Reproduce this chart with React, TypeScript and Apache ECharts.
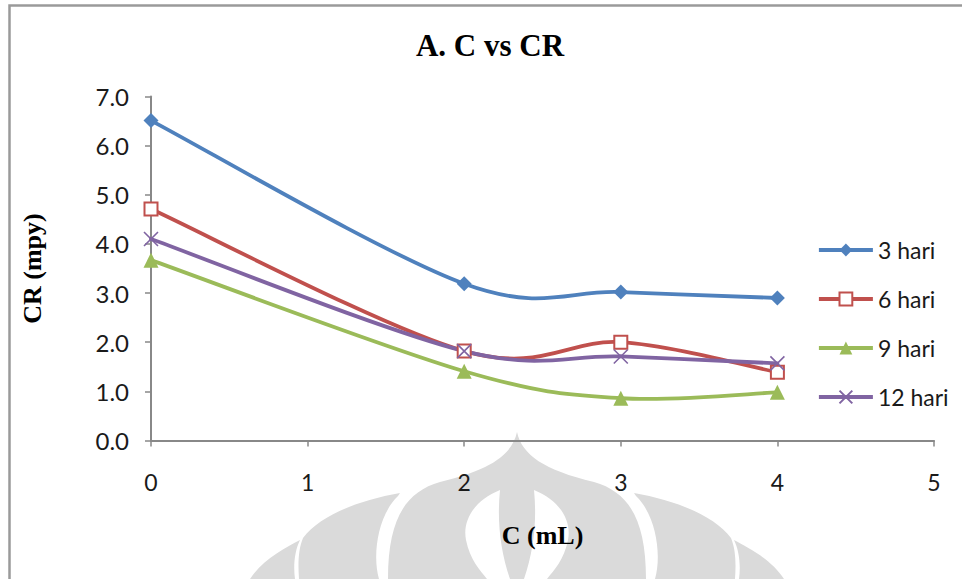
import React, { useEffect, useRef } from "react";
import * as echarts from "echarts";

const xValues = [0, 2, 3, 4];
const seriesNames = ["3 hari", "6 hari", "9 hari", "12 hari"];
const hari3 = [6.51, 3.19, 3.02, 2.9];
const hari6 = [4.71, 1.82, 2.0, 1.39];
const hari9 = [3.67, 1.41, 0.86, 0.98];
const hari12 = [4.1, 1.82, 1.71, 1.57];
const seriesValues = [hari3, hari6, hari9, hari12];
const seriesColors = ["#4f81bd", "#c0504d", "#9bbb59", "#8064a2"];
const yTicks = [0, 1, 2, 3, 4, 5, 6, 7];
const xTicks = [0, 1, 2, 3, 4, 5];

const WM_GREY =
  "M 300 540 C 285 548 262 560 250 579 L 295 579 C 293 565 295 550 300 540 Z " +
  "M 400 493 C 360 500 320 515 303 538 C 298 550 298 565 299 579 L 379 579 C 372 555 378 515 398 496 Z " +
  "M 517 432 C 512 455 490 470 440 482 C 405 492 388 520 388 579 L 646 579 C 646 520 629 492 594 482 C 544 470 522 455 517 432 Z " +
  "M 634 493 C 674 500 714 515 731 538 C 736 550 736 565 735 579 L 655 579 C 662 555 656 515 636 496 Z " +
  "M 734 540 C 749 548 772 560 784 579 L 739 579 C 741 565 739 550 734 540 Z";
const WM_WHITE =
  "M 500 490 C 475 500 462 520 466 540 C 470 560 480 570 487 579 L 510 579 C 500 550 497 520 500 490 Z " +
  "M 534 490 C 559 500 572 520 568 540 C 564 560 554 570 547 579 L 524 579 C 534 550 537 520 534 490 Z";

let registered = false;
function registerShapes() {
  if (registered) return;
  registered = true;
  echarts.graphic.registerShape("wmGrey", echarts.graphic.extendPath(WM_GREY, {}));
  echarts.graphic.registerShape("wmWhite", echarts.graphic.extendPath(WM_WHITE, {}));
}

const symbols = ["diamond", "emptyRect", "triangle", "path://M0,0 L10,10 M10,0 L0,10"];
const symbolSizes = [15, 13, 15, 14];
const LINE_W = 3.8;

export default function App() {
  const ref = useRef<HTMLDivElement>(null);
  useEffect(() => {
    if (!ref.current) return;
    registerShapes();
    const chart = echarts.init(ref.current, null, { renderer: "svg" });
    const labelFont = "Lato";

    // Smooth curves (Excel-style spline) drawn through the axis scales
    const curveSeries = seriesNames.map((name, si) => {
      const vals = seriesValues[si];
      return {
        name: name + " curve",
        type: "custom",
        coordinateSystem: "cartesian2d",
        data: xValues.map((x, i) => [x, vals[i]]),
        encode: { x: 0, y: 1 },
        z: 2 + si * 0.1,
        silent: true,
        renderItem: (params: any, api: any) => {
          const i = params.dataIndex;
          if (i === 0) return { type: "group", children: [] };
          const n = xValues.length;
          const pt = (k: number) => {
            const kk = Math.max(0, Math.min(n - 1, k));
            return api.coord([xValues[kk], vals[kk]]);
          };
          const p0 = pt(i - 2);
          const p1 = pt(i - 1);
          const p2 = pt(i);
          const p3 = pt(i + 1);
          const cp1 = [p1[0] + (p2[0] - p0[0]) / 6, p1[1] + (p2[1] - p0[1]) / 6];
          const cp2 = [p2[0] - (p3[0] - p1[0]) / 6, p2[1] - (p3[1] - p1[1]) / 6];
          return {
            type: "bezierCurve",
            shape: {
              x1: p1[0],
              y1: p1[1],
              cpx1: cp1[0],
              cpy1: cp1[1],
              cpx2: cp2[0],
              cpy2: cp2[1],
              x2: p2[0],
              y2: p2[1],
            },
            style: { stroke: seriesColors[si], lineWidth: LINE_W, fill: "none", lineCap: "round" },
          };
        },
      };
    });

    const markerSeries = seriesNames.map((name, si) => ({
      name,
      type: "line",
      data: xValues.map((x, i) => [x, seriesValues[si][i]]),
      symbol: symbols[si],
      symbolSize: symbolSizes[si],
      showAllSymbol: true,
      lineStyle: { color: seriesColors[si], width: LINE_W, opacity: 0 },
      itemStyle:
        si === 1 || si === 3
          ? { color: seriesColors[si], borderColor: seriesColors[si], borderWidth: 1.6 }
          : { color: seriesColors[si] },
      z: 5 + si * 0.1,
    }));

    chart.setOption({
      animation: false,
      backgroundColor: "#ffffff",
      grid: { left: 151, top: 96.5, width: 783, height: 344, containLabel: false },
      xAxis: {
        type: "value",
        min: 0,
        max: xTicks[xTicks.length - 1],
        interval: 1,
        name: "C (mL)",
        nameLocation: "middle",
        nameGap: 82,
        nameTextStyle: { fontFamily: "Liberation Serif", fontWeight: "bold", fontSize: 26, color: "#000" },
        axisLine: { lineStyle: { color: "#888888", width: 2 } },
        axisTick: { show: true, inside: false, length: 6, lineStyle: { color: "#888888", width: 1.5 } },
        axisLabel: { margin: 30, fontFamily: labelFont, fontSize: 23, color: "#1a1a1a" },
        splitLine: { show: false },
      },
      yAxis: {
        type: "value",
        min: 0,
        max: yTicks[yTicks.length - 1],
        interval: 1,
        name: "CR (mpy)",
        nameLocation: "middle",
        nameGap: 106,
        nameRotate: 90,
        nameTextStyle: { fontFamily: "Liberation Serif", fontWeight: "bold", fontSize: 26, color: "#000" },
        axisLine: { show: true, lineStyle: { color: "#888888", width: 2 } },
        axisTick: { show: true, inside: false, length: 6, lineStyle: { color: "#888888", width: 1.5 } },
        axisLabel: {
          margin: 22,
          fontFamily: labelFont,
          fontSize: 24,
          color: "#1a1a1a",
          formatter: (v: number) => v.toFixed(1),
        },
        splitLine: { show: false },
      },
      legend: {
        orient: "vertical",
        left: 812,
        top: 233,
        itemWidth: 54,
        itemHeight: 16,
        itemGap: 25,
        textStyle: { fontFamily: labelFont, fontSize: 23, color: "#1a1a1a", lineHeight: 24 },
        data: seriesNames.map((n, si) => ({
          name: n,
          lineStyle: { color: seriesColors[si], width: LINE_W, opacity: 1 },
        })),
      },
      graphic: [
        { type: "wmGrey", x: 0, y: 0, z: -10, silent: true, style: { fill: "#dadada" } },
        { type: "wmWhite", x: 0, y: 0, z: -9, silent: true, style: { fill: "#ffffff" } },
        {
          type: "rect",
          z: -5,
          silent: true,
          shape: { x: 9.5, y: 5.5, width: 1200, height: 1200 },
          style: { fill: "none", stroke: "#9a9a9a", lineWidth: 2.5 },
        },
        {
          type: "text",
          x: 490,
          y: 45,
          z: 10,
          style: {
            text: "A. C vs CR",
            fill: "#000",
            font: 'bold 31px "Liberation Serif"',
            textAlign: "center",
            textVerticalAlign: "middle",
          },
        },
      ],
      series: [...curveSeries, ...markerSeries],
    });
    return () => chart.dispose();
  }, []);
  return (
    <div
      ref={ref}
      style={{ position: "fixed", left: 0, top: 0, width: 962, height: 579, background: "#fff" }}
    />
  );
}
